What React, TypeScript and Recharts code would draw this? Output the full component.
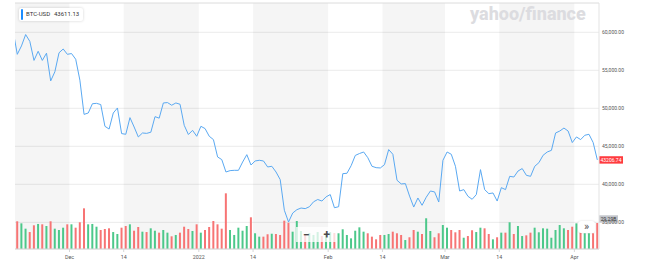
import {
  ComposedChart,
  Line,
  Bar,
  Cell,
  XAxis,
  YAxis,
  CartesianGrid,
  ReferenceArea,
  ReferenceLine,
} from "recharts"

// BTC-USD daily closes, Nov 18 2021 (day 0) .. Apr 6 2022 (day 139)
const prevClose = 60160 // Nov 17, the line enters from the left edge
const closes = [
  // Nov 18-30
  57100, 58200, 59700, 58800, 56300, 57500, 56300, 57250, 53600, 54800, 57300, 57800, 57100,
  // Dec
  57200, 56450, 53700, 49200, 49380, 50600, 50650, 50490, 47630, 47270, 49380, 50040, 46670, 46580,
  48770, 47540, 46230, 46750, 46700, 46850, 48900, 48700, 50700, 50750, 50400, 50700, 50530, 47760,
  46550, 47100, 46320,
  // Jan
  47630, 47330, 46320, 45880, 43600, 43250, 41620, 41800, 41840, 41840, 42930, 43900, 42540, 43070,
  43160, 43070, 42280, 42370, 41620, 40620, 36580, 35040, 36220, 36660, 36880, 36800, 37050, 37700,
  38000, 37800, 38350,
  // Feb
  38650, 36920, 37050, 41400, 41450, 42450, 43800, 44050, 44250, 43500, 42370, 42190, 42150, 42590,
  44570, 43950, 40530, 40050, 40090, 38450, 37010, 38200, 37240, 38300, 39120, 39000, 37670, 43160,
  // Mar
  44250, 43950, 42370, 39120, 39300, 38420, 38030, 38650, 41930, 39300, 38770, 38860, 37800, 39560,
  39300, 41050, 40960, 41750, 42070, 41180, 41050, 42370, 42850, 43820, 44250, 44470, 46750, 47010,
  47400, 47010, 45490,
  // Apr 1-6
  46230, 45880, 46450, 46580, 45490, 43207,
]

// volume, billions
const volumes = [
  31.2, 28.9, 22.9, 19.1, 26.7, 28.2, 27.8, 25.9, 31.2, 22.9, 21.4, 24.0, 27.8,
  27.8, 24.0, 30.1, 45.8, 27.8, 28.2, 25.1, 21.4, 22.5, 23.3, 19.1, 16.9, 24.0, 25.9,
  27.8, 20.6, 24.8, 19.5, 19.1, 23.3, 20.6, 18.4, 21.4, 18.4, 14.3, 15.8, 18.4, 25.1,
  22.5, 20.3, 27.8,
  18.4, 21.4, 24.8, 31.5, 27.8, 22.9, 62.7, 21.4, 15.8, 24.0, 20.6, 25.9, 35.7, 17.7,
  13.9, 13.9, 16.6, 17.2, 16.9, 15.8, 31.9, 29.6, 19.5, 31.5, 20.3, 16.9, 18.0, 15.8,
  19.1, 14.6, 16.9,
  19.1, 18.0, 17.7, 22.2, 15.8, 12.0, 20.6, 24.4, 19.5, 17.7, 13.9, 10.9, 15.8, 15.8,
  16.9, 19.5, 17.7, 15.8, 10.1, 13.2, 21.4, 19.5, 16.9, 34.6, 20.3, 13.2, 17.7, 27.0,
  24.0, 21.4, 18.8, 21.4, 12.7, 14.6, 21.1, 19.1, 24.0, 23.3, 16.9, 10.9, 13.2, 18.4,
  18.4, 30.1, 16.9, 25.9, 14.6, 15.4, 18.4, 24.0, 18.8, 23.3, 22.9, 12.7, 21.4, 27.0,
  23.3, 21.4, 25.1,
  28.9, 24.8, 17.7, 17.7, 17.7, 29.29,
]

// first day of each labelled period (day index)
const tickDays = [13, 26, 44, 57, 75, 88, 103, 116, 134]
const tickLabels = ["Dec", "14", "2022", "14", "Feb", "14", "Mar", "14", "Apr"]
const priceTicks = [35000, 40000, 45000, 50000, 55000, 60000]

const symbol = "BTC-USD"
const quote = "43611.13"
const lastPrice = "43206.74"
const lastVolume = "29.29B"

const data = [
  { day: -1, close: prevClose },
  ...closes.map((c, i) => ({
    day: i,
    close: c,
    volume: volumes[i],
    up: c >= (i === 0 ? prevClose : closes[i - 1]),
  })),
]

const xMin = -0.55
const xMax = 139.4
const edges = [xMin, ...tickDays.map((d) => d - 0.5), xMax]

function Tag({ viewBox, text, fill, color, dy = 0, w = 24 }: any) {
  const x = viewBox.x + viewBox.width
  const y = viewBox.y + dy
  return (
    <g>
      <rect x={x} y={y - 3.7} width={w} height={7.4} fill={fill} />
      <text x={x + w / 2} y={y + 1.8} textAnchor="middle" fontSize={5} fill={color}>
        {text}
      </text>
    </g>
  )
}

export default function App() {
  return (
    <div
      style={{
        position: "absolute",
        left: 0,
        top: 0,
        width: 654,
        height: 267,
        background: "#fff",
        fontFamily: "Roboto, sans-serif",
      }}
    >
      <ComposedChart width={654} height={267} data={data} margin={{ top: 3, right: 0, bottom: 0, left: 15 }}>
        {edges.slice(0, -1).map((e, i) =>
          i % 2 === 0 ? (
            <ReferenceArea
              key={i}
              yAxisId="price"
              x1={e}
              x2={edges[i + 1]}
              fill="#000"
              fillOpacity={0.04}
              stroke="none"
              ifOverflow="hidden"
            />
          ) : null,
        )}
        <CartesianGrid yAxisId="price" vertical={false} stroke="#ebebeb" />
        <ReferenceLine yAxisId="price" y={63850} stroke="#e6e6e6" />
        <XAxis
          dataKey="day"
          type="number"
          domain={[xMin, xMax]}
          allowDataOverflow
          ticks={tickDays.map((d) => d - 0.5)}
          tickFormatter={(v) => tickLabels[tickDays.indexOf(v + 0.5)]}
          height={18}
          tickSize={3}
          tickMargin={3}
          stroke="#d6d6d6"
          tick={{ fontSize: 5.3, fill: "#555" }}
        />
        <YAxis
          yAxisId="price"
          orientation="right"
          domain={[31490, 63850]}
          allowDataOverflow
          ticks={priceTicks}
          tickFormatter={(v) => v.toLocaleString("en-US", { minimumFractionDigits: 2 })}
          width={55}
          tickLine={false}
          tickSize={0}
          tickMargin={3}
          stroke="#e3e3e3"
          tick={{ fontSize: 5, fill: "#555" }}
        />
        <YAxis yAxisId="vol" hide domain={[0, 277]} />
        <Bar dataKey="volume" yAxisId="vol" barSize={2} isAnimationActive={false}>
          {data.map((d, i) => (
            <Cell key={i} fill={d.up ? "#4cc88a" : "#f77474"} />
          ))}
        </Bar>
        <Line
          dataKey="close"
          yAxisId="price"
          stroke="#5aa9f2"
          strokeWidth={1}
          dot={false}
          isAnimationActive={false}
        />
        <ReferenceLine
          yAxisId="price"
          y={closes[closes.length - 1]}
          stroke="none"
          ifOverflow="visible"
          label={<Tag text={lastPrice} fill="#ff3b3f" color="#fff" />}
        />
        <ReferenceLine
          yAxisId="vol"
          y={volumes[volumes.length - 1]}
          stroke="none"
          ifOverflow="visible"
          label={<Tag text={lastVolume} fill="#c3c6cc" color="#333" dy={-4} w={19} />}
        />
      </ComposedChart>

      <div
        style={{
          position: "absolute",
          left: 470,
          top: 3,
          fontSize: 18,
          fontWeight: 800,
          color: "#dcdce0",
          letterSpacing: 0,
        }}
      >
        yahoo/finance
      </div>

      <div
        style={{
          position: "absolute",
          left: 19,
          top: 8,
          width: 64,
          height: 12.5,
          background: "#fff",
          borderRadius: 2,
          boxShadow: "0 0 3px rgba(0,0,0,0.18)",
          fontSize: 6,
          lineHeight: "12.5px",
          color: "#333",
          whiteSpace: "nowrap",
        }}
      >
        <div
          style={{ position: "absolute", left: 1.5, top: 1, width: 2, height: 10.5, background: "#1a8cff", borderRadius: 1 }}
        />
        <span style={{ position: "absolute", left: 7 }}>{symbol}</span>
        <span style={{ position: "absolute", left: 35 }}>{quote}</span>
      </div>

      <div
        style={{
          position: "absolute",
          left: 296,
          top: 227,
          width: 41,
          height: 15,
          background: "rgba(255,255,255,0.75)",
          display: "flex",
          justifyContent: "space-around",
          alignItems: "center",
          color: "#4a4a4a",
          fontSize: 12,
          fontWeight: 700,
        }}
      >
        <span>−</span>
        <span>+</span>
      </div>

      <div
        style={{
          position: "absolute",
          left: 578,
          top: 221,
          width: 17,
          height: 12,
          background: "#fff",
          borderRadius: 3,
          boxShadow: "0 0 2px rgba(0,0,0,0.15)",
          color: "#555",
          fontSize: 11,
          lineHeight: "11px",
          textAlign: "center",
        }}
      >
        »
      </div>
    </div>
  )
}
